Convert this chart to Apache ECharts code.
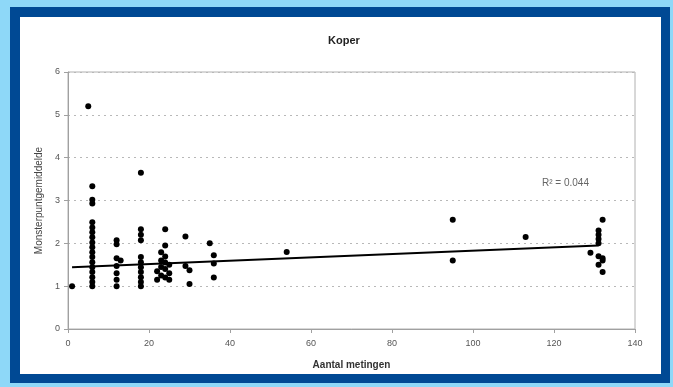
<!DOCTYPE html>
<html>
<head>
<meta charset="utf-8">
<script src="https://cdn.jsdelivr.net/npm/echarts@6/dist/echarts.min.js"></script>
<style>
  html, body { margin: 0; padding: 0; background: #8ed8f8; }
  #frame { position: absolute; left: 10px; top: 7px; width: 660px; height: 376px; background: #004994; }
  #paper { position: absolute; left: 20px; top: 17px; width: 641px; height: 357px; background: #ffffff; }
  #chart { position: absolute; left: 0; top: 0; width: 673px; height: 387px; }
</style>
</head>
<body>
<div id="frame"></div>
<div id="paper"></div>
<div id="chart"></div>
<script>
// aantal metingen (x) en monsterpuntgemiddelde (y)
var metingenX = [
    1, 5,
    6, 6, 6, 6, 6, 6, 6, 6, 6, 6, 6, 6, 6, 6, 6, 6, 6,
    12, 12, 12, 13, 12, 12, 12, 12,
    18, 18, 18, 18, 18, 18, 18, 18, 18, 18, 18,
    24, 24, 23, 24, 23, 24, 25, 23, 24, 22, 25, 23, 24, 22, 25,
    29, 29, 30, 30,
    35, 36, 36, 36,
    54,
    95, 95,
    113,
    132, 131, 131, 131, 131, 129, 131, 132, 132, 131, 132
];
var gemiddeldeY = [
    1.0, 5.2,
    3.33, 3.02, 2.93, 2.49, 2.37, 2.26, 2.14, 2.02, 1.91, 1.79, 1.68, 1.56, 1.44, 1.33, 1.21, 1.10, 1.0,
    2.07, 1.98, 1.65, 1.6, 1.47, 1.3, 1.15, 1.0,
    3.65, 2.33, 2.2, 2.07, 1.68, 1.56, 1.44, 1.33, 1.21, 1.1, 1.0,
    2.33, 1.95, 1.79, 1.69, 1.6, 1.55, 1.5, 1.45, 1.4, 1.35, 1.3, 1.25, 1.2, 1.15, 1.15,
    2.16, 1.47, 1.37, 1.05,
    2.0, 1.72, 1.53, 1.2,
    1.8,
    2.55, 1.6,
    2.15,
    2.55, 2.3, 2.2, 2.1, 2.0, 1.78, 1.7, 1.65, 1.6, 1.5, 1.33
];
var trendX = [1, 131];
var trendY = [1.44, 1.95];
var rKwadraat = 'R\u00B2 = 0.044';

var punten = [];
for (var i = 0; i < metingenX.length; i++) {
    punten.push([metingenX[i], gemiddeldeY[i]]);
}
var trend = [];
for (var j = 0; j < trendX.length; j++) {
    trend.push([trendX[j], trendY[j]]);
}

var dom = document.getElementById('chart');
var myChart = echarts.init(dom, null, { renderer: 'canvas' });
var fontFam = '"Liberation Sans", Arial, sans-serif';

var option = {
    backgroundColor: 'transparent',
    animation: false,
    title: {
        text: 'Koper',
        left: 339,
        textAlign: 'center',
        top: 30,
        textStyle: { fontFamily: fontFam, fontSize: 11, fontWeight: 'bold', color: '#222' }
    },
    grid: {
        left: 68, right: 38, top: 72, bottom: 58,
        show: true,
        borderColor: '#b0b0b0',
        borderWidth: 1
    },
    xAxis: {
        type: 'value',
        min: 0, max: 140, interval: 20,
        name: 'Aantal metingen',
        nameLocation: 'middle',
        nameGap: 31,
        nameTextStyle: { fontFamily: fontFam, fontSize: 10, fontWeight: 'bold', color: '#333' },
        axisLine: { show: true, lineStyle: { color: '#a0a0a0' } },
        axisTick: { show: true, length: 4, lineStyle: { color: '#a0a0a0' } },
        axisLabel: { fontFamily: fontFam, fontSize: 9, color: '#555', margin: 10 },
        splitLine: { show: false }
    },
    yAxis: {
        type: 'value',
        min: 0, max: 6, interval: 1,
        name: 'Monsterpuntgemiddelde',
        nameLocation: 'middle',
        nameRotate: 90,
        nameGap: 19,
        nameTextStyle: { fontFamily: fontFam, fontSize: 10, color: '#444' },
        axisLine: { show: true, lineStyle: { color: '#a0a0a0' } },
        axisTick: { show: true, length: 4, lineStyle: { color: '#a0a0a0' } },
        axisLabel: { fontFamily: fontFam, fontSize: 9, color: '#555', margin: 8 },
        splitLine: { show: true, lineStyle: { color: '#b8b8b8', type: [2, 4], width: 1 } }
    },
    graphic: [{
        type: 'text',
        left: 542,
        top: 178,
        style: { text: rKwadraat, fontFamily: fontFam, fontSize: 10, fill: '#666' }
    }],
    series: [
        {
            type: 'scatter',
            data: punten,
            symbol: 'circle',
            symbolSize: 6,
            itemStyle: { color: '#000', opacity: 1 }
        },
        {
            type: 'line',
            data: trend,
            showSymbol: false,
            lineStyle: { color: '#000', width: 2 },
            z: 3
        }
    ]
};

myChart.setOption(option);
window.addEventListener('resize', myChart.resize);
</script>
</body>
</html>
